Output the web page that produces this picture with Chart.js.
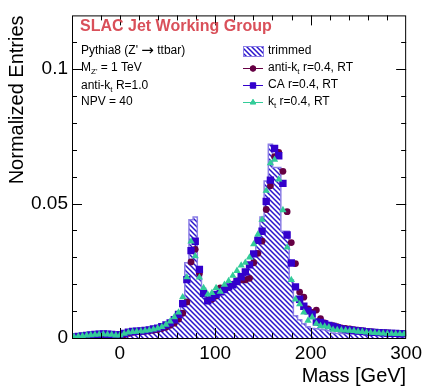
<!DOCTYPE html>
<html>
<head>
<meta charset="utf-8">
<title>Jet mass</title>
<script src="https://cdn.jsdelivr.net/npm/chart.js@4.4.1/dist/chart.umd.min.js"></script>
<style>
    html, body { margin: 0; padding: 0; background: #fff; }
    #wrap { width: 426px; height: 386px; }
</style>
</head>
<body>
<div id="wrap"><canvas id="massChart" width="426" height="386"></canvas></div>
<script>
// histogram binning (GeV): 80 bins from -50 to 300
const binLow = -50;
const binWidth = 4.375;

// trimmed large-R jet mass (filled histogram)
const trimmed = [
    0.0004, 0.0006, 0.0007, 0.0009, 0.0010, 0.0011, 0.0012, 0.0014, 0.0013, 0.0012,
    0.0010, 0.0011, 0.0014, 0.0020, 0.0026, 0.0029, 0.0030, 0.0031, 0.0032, 0.0034,
    0.0037, 0.0041, 0.0046, 0.0053, 0.0063, 0.0080, 0.0118, 0.0280, 0.0440, 0.0450,
    0.0255, 0.0185, 0.0155, 0.0155, 0.0163, 0.0170, 0.0180, 0.0190, 0.0205, 0.0220,
    0.0238, 0.0252, 0.0280, 0.0320, 0.0380, 0.0450, 0.0584, 0.0721, 0.0634, 0.0634,
    0.0397, 0.0397, 0.0216, 0.0083, 0.0068, 0.0053, 0.0042, 0.0035, 0.0034, 0.0033,
    0.0031, 0.0027, 0.0019, 0.0017, 0.0017, 0.0017, 0.0016, 0.0016, 0.0015, 0.0014,
    0.0013, 0.0012, 0.0012, 0.0011, 0.0010, 0.0010, 0.0009, 0.0009, 0.0008, 0.0008
];

// anti-kt r=0.4, RT
const antiKt = [
    0.0003, 0.0005, 0.0006, 0.0008, 0.0009, 0.0010, 0.0011, 0.0012, 0.0012, 0.0011,
    0.0009, 0.0009, 0.0012, 0.0017, 0.0021, 0.0023, 0.0024, 0.0025, 0.0027, 0.0029,
    0.0031, 0.0035, 0.0040, 0.0047, 0.0055, 0.0070, 0.0092, 0.0134, 0.0283, 0.0330,
    0.0240, 0.0170, 0.0140, 0.0144, 0.0156, 0.0186, 0.0180, 0.0188, 0.0200, 0.0212,
    0.0216, 0.0216, 0.0222, 0.0280, 0.0315, 0.0360, 0.0478, 0.0566, 0.0675, 0.0690,
    0.0620, 0.0470, 0.0355, 0.0277, 0.0171, 0.0152, 0.0108, 0.0095, 0.0104, 0.0072,
    0.0056, 0.0048, 0.0046, 0.0042, 0.0038, 0.0036, 0.0034, 0.0031, 0.0029, 0.0027,
    0.0025, 0.0024, 0.0022, 0.0021, 0.0020, 0.0019, 0.0018, 0.0017, 0.0016, 0.0016
];

// CA r=0.4, RT
const caJets = [
    0.0004, 0.0006, 0.0008, 0.0010, 0.0011, 0.0013, 0.0014, 0.0015, 0.0014, 0.0013,
    0.0011, 0.0012, 0.0017, 0.0022, 0.0024, 0.0025, 0.0026, 0.0028, 0.0030, 0.0034,
    0.0037, 0.0042, 0.0049, 0.0056, 0.0068, 0.0088, 0.0128, 0.0217, 0.0325, 0.0360,
    0.0255, 0.0166, 0.0138, 0.0150, 0.0162, 0.0172, 0.0180, 0.0190, 0.0198, 0.0210,
    0.0228, 0.0246, 0.0272, 0.0313, 0.0363, 0.0397, 0.0508, 0.0587, 0.0705, 0.0678,
    0.0575, 0.0383, 0.0279, 0.0190, 0.0144, 0.0118, 0.0101, 0.0089, 0.0060, 0.0058,
    0.0052, 0.0047, 0.0043, 0.0038, 0.0034, 0.0031, 0.0030, 0.0028, 0.0026, 0.0025,
    0.0023, 0.0022, 0.0021, 0.0020, 0.0019, 0.0018, 0.0017, 0.0017, 0.0016, 0.0016
];

// kt r=0.4, RT
const ktJets = [
    0.0004, 0.0006, 0.0008, 0.0010, 0.0011, 0.0012, 0.0013, 0.0014, 0.0013, 0.0012,
    0.0010, 0.0011, 0.0016, 0.0021, 0.0023, 0.0024, 0.0025, 0.0027, 0.0029, 0.0032,
    0.0036, 0.0041, 0.0050, 0.0062, 0.0078, 0.0095, 0.0152, 0.0226, 0.0359, 0.0304,
    0.0225, 0.0186, 0.0162, 0.0168, 0.0186, 0.0172, 0.0198, 0.0212, 0.0232, 0.0250,
    0.0270, 0.0280, 0.0300, 0.0349, 0.0385, 0.0440, 0.0548, 0.0650, 0.0663, 0.0590,
    0.0476, 0.0337, 0.0216, 0.0144, 0.0126, 0.0095, 0.0065, 0.0077, 0.0053, 0.0045,
    0.0043, 0.0040, 0.0031, 0.0030, 0.0029, 0.0028, 0.0027, 0.0026, 0.0024, 0.0023,
    0.0021, 0.0020, 0.0019, 0.0018, 0.0017, 0.0016, 0.0016, 0.0015, 0.0015, 0.0014
];

const xTickLabels = [0, 100, 200, 300];
const yTickLabels = [0, 0.05, 0.1];

const FONT = "'Liberation Sans', Arial, sans-serif";
const colors = {
    hatch: '#2a16cc',
    outline: '#8c7fe6',
    antiKt: '#660044',
    ca: '#3300cc',
    kt: '#33cc99',
    title: '#d9505a'
};

Chart.defaults.font.family = FONT;
Chart.defaults.color = '#000';

// diagonal hatch like ROOT fill style 3004
function makeHatch(color) {
    const c = document.createElement('canvas');
    c.width = 5; c.height = 5;
    const g = c.getContext('2d');
    g.strokeStyle = color;
    g.lineWidth = 1.5;
    g.beginPath();
    g.moveTo(-1, -1); g.lineTo(6, 6);
    g.moveTo(-1, 4); g.lineTo(1, 6);
    g.moveTo(4, -1); g.lineTo(6, 1);
    g.stroke();
    return g.createPattern(c, 'repeat');
}
const hatch = makeHatch(colors.hatch);

// step outline: one point per left bin edge, plus the closing edge
const histPoints = trimmed.map((v, i) => ({ x: binLow + i * binWidth, y: v }));
histPoints.push({ x: binLow + trimmed.length * binWidth, y: trimmed[trimmed.length - 1] });

function atCenters(values) {
    return values.map((v, i) => ({ x: binLow + (i + 0.5) * binWidth, y: v }));
}

// text with a subscript part: parts = [[text, isSub, fontOverride], ...]
function drawRich(ctx, parts, x, y, size) {
    ctx.textBaseline = 'middle';
    ctx.textAlign = 'left';
    parts.forEach(([txt, sub, alt]) => {
        const s = sub ? Math.round(size * 0.68) : size;
        ctx.font = alt ? alt : s + 'px ' + FONT;
        ctx.fillText(txt, x, sub ? y + size * 0.3 : y);
        x += ctx.measureText(txt).width;
    });
}

// ROOT style frame with inward ticks on all four sides
const frameTicks = {
    id: 'frameTicks',
    afterDatasetsDraw(chart) {
        const { ctx, chartArea: a, scales: { x, y } } = chart;
        ctx.save();
        ctx.strokeStyle = '#000';
        ctx.lineWidth = 1;
        ctx.strokeRect(a.left + 0.5, a.top + 0.5, a.right - a.left - 1, a.bottom - a.top);
        ctx.beginPath();
        x.ticks.forEach(t => {
            if (t.value <= x.min || t.value >= x.max) return;
            const px = Math.round(x.getPixelForValue(t.value)) + 0.5;
            const len = t.value % 100 === 0 ? 10 : 5;
            ctx.moveTo(px, a.bottom); ctx.lineTo(px, a.bottom - len);
            ctx.moveTo(px, a.top); ctx.lineTo(px, a.top + len);
        });
        y.ticks.forEach(t => {
            if (t.value <= y.min || t.value >= y.max) return;
            const py = Math.round(y.getPixelForValue(t.value)) + 0.5;
            const len = Math.round(t.value * 100) % 5 === 0 ? 10 : 5;
            ctx.moveTo(a.left, py); ctx.lineTo(a.left + len, py);
            ctx.moveTo(a.right, py); ctx.lineTo(a.right - len, py);
        });
        ctx.stroke();
        ctx.restore();
    }
};

// labels and legend drawn inside the frame
const infoBox = {
    id: 'infoBox',
    afterDraw(chart) {
        const ctx = chart.ctx;
        ctx.save();
        ctx.fillStyle = colors.title;
        ctx.font = 'bold 16px ' + FONT;
        ctx.textBaseline = 'middle';
        ctx.fillText('SLAC Jet Working Group', 80, 27);

        ctx.fillStyle = '#000';
        drawRich(ctx, [['Pythia8 (Z\' '], ['\u2192', false, "15px 'DejaVu Sans', sans-serif"], [' ttbar)']], 81, 51, 12);
        drawRich(ctx, [['M'], ['Z\'', true], [' = 1 TeV']], 81, 68, 12);
        drawRich(ctx, [['anti-k'], ['t', true], [' R=1.0']], 81, 86, 12);
        drawRich(ctx, [['NPV = 40']], 81, 102, 12);

        // legend
        const sx0 = 243, sx1 = 263, tx = 268;
        ctx.fillStyle = hatch;
        ctx.fillRect(sx0, 46, sx1 - sx0, 10);
        ctx.strokeStyle = colors.outline;
        ctx.lineWidth = 1;
        ctx.strokeRect(sx0 + 0.5, 46.5, sx1 - sx0, 10);
        ctx.fillStyle = '#000';
        drawRich(ctx, [['trimmed']], tx, 51, 12);

        const rows = [
            { y: 68, color: colors.antiKt, style: 'circle', r: 2.8, text: [['anti-k'], ['t', true], [' r=0.4, RT']] },
            { y: 85, color: colors.ca, style: 'rect', r: 3.8, text: [['CA r=0.4, RT']] },
            { y: 102, color: colors.kt, style: 'triangle', r: 3.2, text: [['k'], ['t', true], [' r=0.4, RT']] }
        ];
        rows.forEach(row => {
            ctx.strokeStyle = row.color;
            ctx.lineWidth = 1;
            ctx.beginPath();
            ctx.moveTo(sx0, row.y + 0.5); ctx.lineTo(sx1, row.y + 0.5);
            ctx.stroke();
            ctx.fillStyle = row.color;
            Chart.helpers.drawPoint(ctx, { pointStyle: row.style, radius: row.r, rotation: 0, borderWidth: 1 }, (sx0 + sx1) / 2, row.y + 0.5);
            ctx.fill();
            ctx.fillStyle = '#000';
            drawRich(ctx, row.text, tx, row.y, 12);
        });
        ctx.restore();
    }
};

const ctx = document.getElementById('massChart').getContext('2d');
new Chart(ctx, {
    type: 'scatter',
    data: {
        datasets: [
            {
                type: 'line',
                label: 'trimmed',
                data: histPoints,
                stepped: 'before',
                fill: 'origin',
                backgroundColor: hatch,
                borderColor: colors.outline,
                borderWidth: 1.5,
                pointRadius: 0,
                order: 4
            },
            {
                label: 'anti-kt r=0.4, RT',
                data: atCenters(antiKt),
                pointStyle: 'circle',
                pointRadius: 3.4,
                backgroundColor: colors.antiKt,
                borderColor: colors.antiKt,
                borderWidth: 0,
                order: 3
            },
            {
                label: 'CA r=0.4, RT',
                data: atCenters(caJets),
                pointStyle: 'rect',
                pointRadius: 5.2,
                backgroundColor: colors.ca,
                borderColor: colors.ca,
                borderWidth: 0,
                order: 2
            },
            {
                label: 'kt r=0.4, RT',
                data: atCenters(ktJets),
                pointStyle: 'triangle',
                pointRadius: 4.2,
                backgroundColor: colors.kt,
                borderColor: colors.kt,
                borderWidth: 0,
                order: 1
            }
        ]
    },
    options: {
        responsive: false,
        animation: false,
        layout: { padding: { top: 6, right: 19, left: 0, bottom: 0 } },
        plugins: {
            legend: { display: false },
            tooltip: { enabled: false }
        },
        scales: {
            x: {
                type: 'linear',
                min: -50,
                max: 300,
                grid: { display: false, drawTicks: false },
                border: { display: false },
                ticks: {
                    stepSize: 20,
                    autoSkip: false,
                    maxRotation: 0,
                    padding: 4,
                    font: { size: 19 },
                    callback: v => xTickLabels.includes(v) ? String(v) : ''
                },
                title: {
                    display: true,
                    text: 'Mass [GeV]',
                    align: 'end',
                    font: { size: 20, lineHeight: 1 },
                    padding: { top: 0, bottom: 0 }
                },
                afterFit: s => { s.height = 48; }
            },
            y: {
                min: 0,
                max: 0.12,
                grid: { display: false, drawTicks: false },
                border: { display: false },
                ticks: {
                    stepSize: 0.01,
                    autoSkip: false,
                    padding: 4,
                    font: { size: 19 },
                    callback: v => {
                        const r = Math.round(v * 100) / 100;
                        return yTickLabels.includes(r) ? String(r) : '';
                    }
                },
                title: {
                    display: true,
                    text: 'Normalized Entries',
                    align: 'end',
                    font: { size: 20, lineHeight: 1 },
                    padding: { top: 7, bottom: 0 }
                },
                afterFit: s => { s.width = 72; }
            }
        }
    },
    plugins: [frameTicks, infoBox]
});
</script>
</body>
</html>
